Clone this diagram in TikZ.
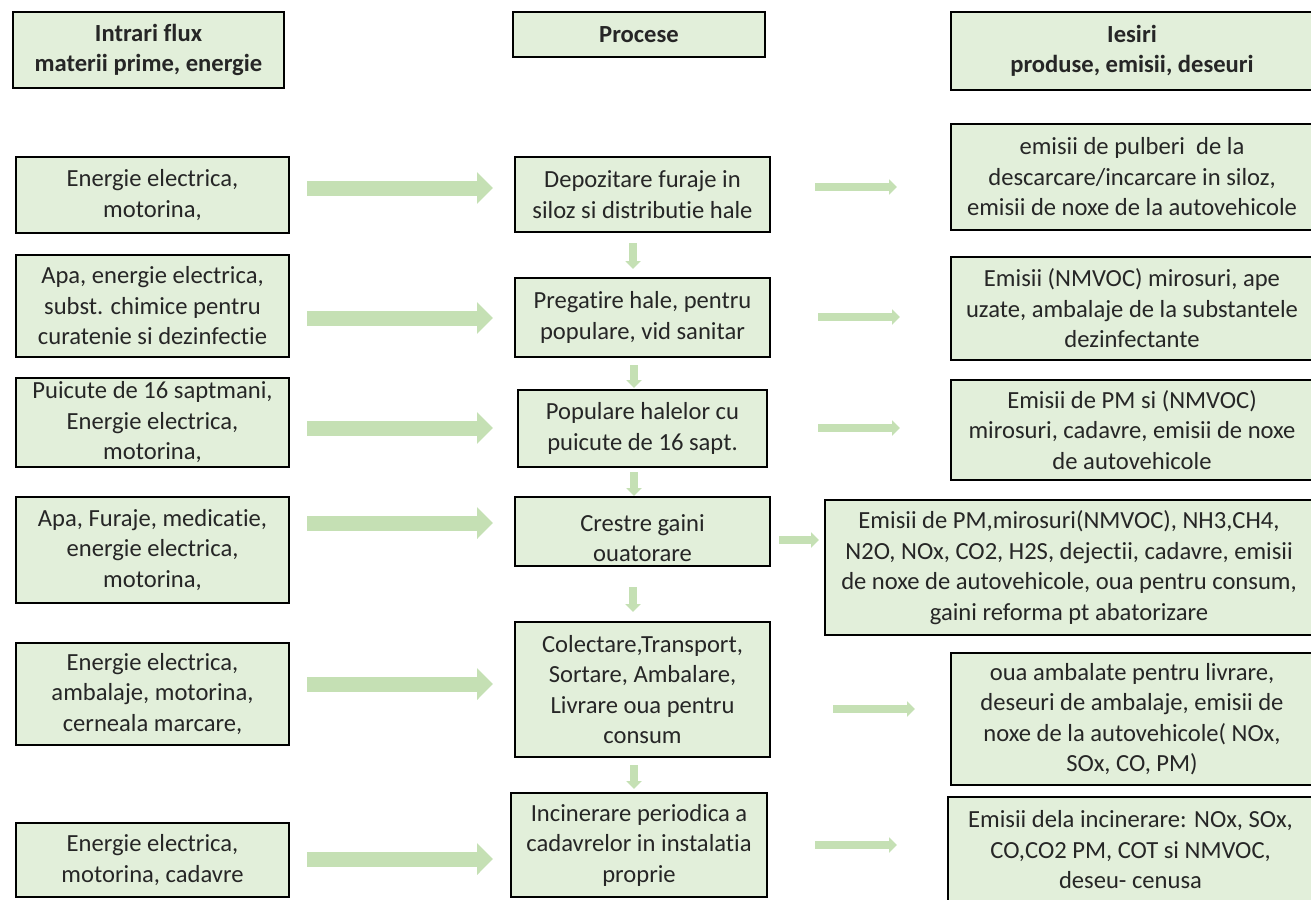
\documentclass[tikz,border=0pt]{standalone}
\usepackage{fontspec}
\setmainfont{Carlito}[Ligatures=NoCommon]
\usetikzlibrary{arrows.meta}
\definecolor{boxfill}{HTML}{E2EFDA}
\definecolor{arrfill}{HTML}{C5E0B4}
\begin{document}
\begin{tikzpicture}[x=1pt,y=-1pt,
  box/.style={draw=black, line width=1.6pt, fill=boxfill, align=center, inner sep=0pt,
    font=\fontsize{24.6}{30.5}\selectfont, text=black!85},
  hbox/.style={box, font=\bfseries\fontsize{24.6}{30.5}\selectfont},
  bigarr/.style={draw=arrfill, line width=15pt, -{Triangle[length=16pt,width=31pt]}},
  smallarr/.style={draw=arrfill, line width=8.5pt, -{Triangle[length=8pt,width=15pt]}}]
\useasboundingbox (0,0) rectangle (1311,899);
\clip (0,0) rectangle (1311,899);
% headers
\node[hbox, minimum width=271, minimum height=76] (H1) at (148.5,50) {Intrari flux\\materii prime, energie};
\node[hbox, minimum width=252, minimum height=45] (H2) at (639,34.5) {Procese};
\node[hbox, minimum width=362, minimum height=78] (H3) at (1132,51) {Iesiri\\produse, emisii, deseuri};
% left column
\node[box, minimum width=273, minimum height=76] (L1) at (152.5,195) {Energie electrica,\\motorina,};
\node[box, minimum width=273, minimum height=102] (L2) at (152.5,306) {Apa, energie electrica,\\subst. chimice pentru\\curatenie si dezinfectie};
\node[box, minimum width=273, minimum height=89] (L3) at (152.5,422.5) {Puicute de 16 saptmani,\\Energie electrica,\\motorina,};
\node[box, minimum width=273, minimum height=106] (L4) at (152.5,550) {Apa, Furaje, medicatie,\\energie electrica,\\motorina,};
\node[box, minimum width=273, minimum height=102] (L5) at (152.5,694) {Energie electrica,\\ambalaje, motorina,\\cerneala marcare,};
\node[box, minimum width=273, minimum height=74] (L6) at (152.5,860) {Energie electrica,\\motorina, cadavre};
% middle column
\node[box, minimum width=255, minimum height=75] (M1) at (642.5,194.5) {Depozitare furaje in\\siloz si distributie hale};
\node[box, minimum width=255, minimum height=79] (M2) at (642.5,317.5) {Pregatire hale, pentru\\populare, vid sanitar};
\node[box, minimum width=249, minimum height=77] (M3) at (642.5,428.5) {Populare halelor cu\\puicute de 16 sapt.};
\node[box, minimum width=255, minimum height=69] (M4) at (642.5,531.5) {\rule{0pt}{30pt}Crestre gaini\\ouatorare};
\node[box, minimum width=255, minimum height=135] (M5) at (642.5,689.5) {Colectare,Transport,\\Sortare, Ambalare,\\Livrare oua pentru\\consum};
\node[box, minimum width=256, minimum height=104] (M6) at (639,845) {Incinerare periodica a\\cadavrelor in instalatia\\proprie};
% right column
\node[box, minimum width=362, minimum height=106] (R1) at (1132,177) {emisii de pulberi\ \ de la\\descarcare/incarcare in siloz,\\emisii de noxe de la autovehicole};
\node[box, minimum width=362, minimum height=103] (R2) at (1132,308.5) {Emisii (NMVOC) mirosuri, ape\\uzate, ambalaje de la substantele\\dezinfectante};
\node[box, minimum width=362, minimum height=100] (R3) at (1132,430) {Emisii de PM si (NMVOC)\\mirosuri, cadavre, emisii de noxe\\de autovehicole};
\node[box, minimum width=488, minimum height=135] (R4) at (1069,567.5) {Emisii de PM,mirosuri(NMVOC), NH3,CH4,\\N2O, NOx, CO2, H2S, dejectii, cadavre, emisii\\de noxe de autovehicole, oua pentru consum,\\gaini reforma pt abatorizare};
\node[box, minimum width=362, minimum height=132] (R5) at (1132,719) {oua ambalate pentru livrare,\\deseuri de ambalaje, emisii de\\noxe de la autovehicole( NOx,\\SOx, CO, PM)};
\node[box, minimum width=365, minimum height=106] (R6) at (1130.5,850) {Emisii dela incinerare: NOx, SOx,\\CO,CO2 PM, COT si NMVOC,\\deseu- cenusa};
% input arrows
\draw[bigarr] (307,188) -- (493,188);
\draw[bigarr] (307,318) -- (493,318);
\draw[bigarr] (307,428) -- (493,428);
\draw[bigarr] (307,523) -- (493,523);
\draw[bigarr] (307,684) -- (493,684);
\draw[bigarr] (307,859) -- (493,859);
% output arrows
\draw[smallarr] (815,187) -- (897,187);
\draw[smallarr] (818,317) -- (900,317);
\draw[smallarr] (818,428) -- (900,428);
\draw[smallarr] (779,540) -- (819,540);
\draw[smallarr] (833,709) -- (915,709);
\draw[smallarr] (815,845) -- (897,845);
% down arrows
\draw[smallarr] (633,243) -- (633,269);
\draw[smallarr] (634,365) -- (634,388);
\draw[smallarr] (634,472) -- (634,496);
\draw[smallarr] (633,587) -- (633,612);
\draw[smallarr] (634,765) -- (634,789);
\end{tikzpicture}
\end{document}
